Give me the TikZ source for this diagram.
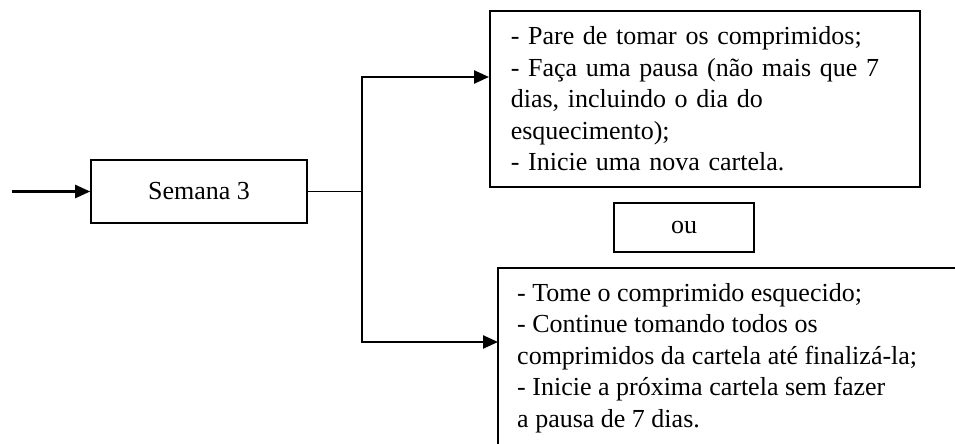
\documentclass[tikz,border=0pt]{standalone}
\usepackage{fontspec}
\setmainfont{Liberation Serif}
\usetikzlibrary{arrows.meta,calc}
\begin{document}
\begin{tikzpicture}[x=1pt,y=-1pt,
  font=\fontsize{26}{31.5}\selectfont,
  boxa/.style={draw,line width=1.6pt,inner sep=0pt},
  conn/.style={line width=2.4pt},
  thin conn/.style={line width=1.3pt},
  arr/.style={conn,-{Triangle[length=15pt,width=13pt]}}]
\useasboundingbox (0,0) rectangle (955,444);
\fill[white] (0,0) rectangle (955,444);
\node[boxa,minimum width=216pt,minimum height=63pt] (sem) at (199,191.5) {Semana 3};
\node[boxa,anchor=north west,minimum width=430pt,minimum height=176pt,text width=388pt,inner xsep=21pt,inner ysep=15pt,align=left] (top) at (489,10)
 {- Pare de tomar os comprimidos;\\- Faça uma pausa (não mais que 7\\dias, incluindo o dia do\\esquecimento);\\- Inicie uma nova cartela.};
\node[boxa,minimum width=140pt,minimum height=49pt] (ou) at (684,227.5) {ou};
\node[anchor=north west,inner xsep=19pt,inner ysep=15pt,align=left] (bot) at (498,268)
 {- Tome o comprimido esquecido;\\- Continue tomando todos os\\comprimidos da cartela até finalizá-la;\\- Inicie a próxima cartela sem fazer\\a pausa de 7 dias.};
\draw[line width=1.6pt] ([yshift=-40pt]bot.south west) -- (bot.north west) -- ++(500,0);
\coordinate (start) at (12,191.5);
\coordinate (j) at (362,191.5);
\coordinate (jt) at (362,77);
\coordinate (jb) at (362,342);
\draw[arr] (start) -- (sem.west);
\draw[thin conn] (sem.east) -- (j);
\draw[arr] (j) -- (jt) -- (jt -| top.west);
\draw[arr] (j) -- (jb) -- (jb -| bot.west);
\end{tikzpicture}
\end{document}
